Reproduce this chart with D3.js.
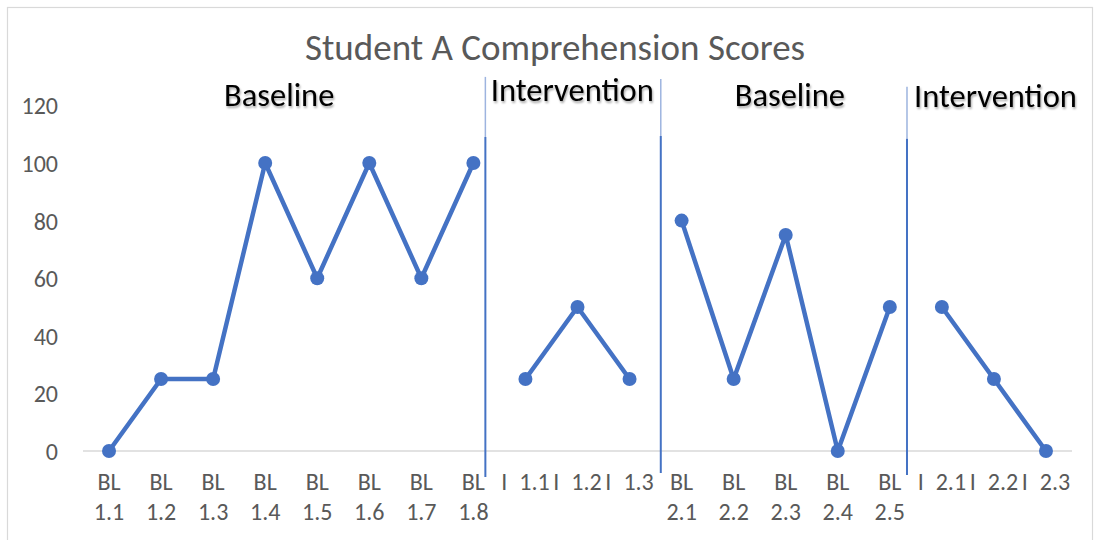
<!DOCTYPE html>
<html>
<head>
<meta charset="utf-8">
<script src="https://cdn.jsdelivr.net/npm/d3@7"></script>
<style>
  html, body { margin: 0; padding: 0; background: #fff; }
  svg { display: block; }
</style>
</head>
<body>
<svg id="chart" width="1095" height="540"></svg>
<script>
const categories = ["BL 1.1","BL 1.2","BL 1.3","BL 1.4","BL 1.5","BL 1.6","BL 1.7","BL 1.8",
  "I 1.1","I 1.2","I 1.3",
  "BL 2.1","BL 2.2","BL 2.3","BL 2.4","BL 2.5",
  "I 2.1","I 2.2","I 2.3"];
const scores = [0,25,25,100,60,100,60,100, 25,50,25, 80,25,75,0,50, 50,25,0];
const phaseIndex = [0,0,0,0,0,0,0,0, 1,1,1, 2,2,2,2,2, 3,3,3];
const phaseNames = ["Baseline","Intervention","Baseline","Intervention"];
const phaseLabelPos = [3.27, 8.9, 13.08, 17.03];   // centre, in category units
const phaseLabelVal = [119.8, 121.6, 119.8, 119.6]; // baseline, in score units
const phaseLines = [7.23, 10.6, 15.33];            // in category units
const phaseLineTopVal = [129.9, 129.2, 126.5];
const phaseLineMidVal = [109, 109.4, 108.4];
const phaseLineBottomVal = [-9, -7.6, -8.3];
const yTicks = [0,20,40,60,80,100,120];
const title = "Student A Comprehension Scores";

(function () {
const svg = d3.select("#chart");
const W = 1095, H = 540;
const mLeft = 83, mRight = 1072, mTop = 105.4, mBottom = 451;

svg.append("rect").attr("x", 7.5).attr("y", 7.5).attr("width", W - 10).attr("height", H - 4)
  .attr("fill", "#fff").attr("stroke", "#d9d9d9").attr("stroke-width", 1.2);

const x = d3.scalePoint().domain(categories).range([mLeft, mRight]).padding(0.5);
const step = x.step();
const xi = i => x(categories[0]) + i * step;
const y = d3.scaleLinear().domain([0, 120]).range([mBottom, mTop]);

const font = "Carlito, Calibri, 'Open Sans', 'Noto Sans', sans-serif";

svg.append("text").attr("x", 555).attr("y", 60).attr("text-anchor", "middle")
  .attr("font-family", font).attr("font-size", 37).attr("fill", "#595959").text(title);

const yAxis = d3.axisLeft(y).tickValues(yTicks).tickSize(0).tickPadding(0);
const yg = svg.append("g").attr("transform", `translate(58,0)`).call(yAxis);
yg.select(".domain").remove();
yg.selectAll("text").attr("font-family", font).attr("font-size", 24).attr("fill", "#595959").attr("dy", "0.35em");

const xAxis = d3.axisBottom(x).tickSize(0).tickFormat("");
const xg = svg.append("g").attr("transform", `translate(0,${mBottom})`).call(xAxis);
xg.select(".domain").attr("stroke", "#d9d9d9").attr("stroke-width", 1.5).attr("d", `M${mLeft},0H${mRight}`);

const lab = svg.append("g");
categories.forEach(c => {
  const parts = c.split(" ");
  const t = lab.append("text").attr("x", x(c)).attr("y", 490).attr("text-anchor", "middle")
    .attr("font-family", font).attr("font-size", 24).attr("fill", "#595959");
  if (parts[0] === "BL") {
    t.append("tspan").attr("x", x(c)).attr("dy", 0).text(parts[0]);
    t.append("tspan").attr("x", x(c)).attr("dy", 30).text(parts[1]);
  } else {
    t.text("I\u2002" + parts[1]);
  }
});

phaseLines.forEach((p, k) => {
  svg.append("line").attr("x1", xi(p)).attr("x2", xi(p))
    .attr("y1", y(phaseLineTopVal[k])).attr("y2", y(phaseLineMidVal[k]))
    .attr("stroke", "#9db4df").attr("stroke-width", 1.5);
  svg.append("line").attr("x1", xi(p)).attr("x2", xi(p))
    .attr("y1", y(phaseLineMidVal[k])).attr("y2", y(phaseLineBottomVal[k]))
    .attr("stroke", "#4472c4").attr("stroke-width", 2);
});

const defs = svg.append("defs");
const f = defs.append("filter").attr("id", "sh").attr("x", "-10%").attr("y", "-30%").attr("width", "120%").attr("height", "160%");
f.append("feGaussianBlur").attr("in", "SourceAlpha").attr("stdDeviation", 1.2).attr("result", "b");
f.append("feOffset").attr("in", "b").attr("dx", 1).attr("dy", 1.5).attr("result", "o");
f.append("feComponentTransfer").attr("in", "o").attr("result", "o2")
  .append("feFuncA").attr("type", "linear").attr("slope", 0.35);
const mg = f.append("feMerge");
mg.append("feMergeNode").attr("in", "o2");
mg.append("feMergeNode").attr("in", "SourceGraphic");

phaseNames.forEach((n, k) => {
  svg.append("text").attr("x", xi(phaseLabelPos[k])).attr("y", y(phaseLabelVal[k]))
    .attr("text-anchor", "middle").attr("font-family", font).attr("font-size", 32.5)
    .attr("fill", "#000").attr("filter", "url(#sh)").text(n);
});

const data = categories.map((c, i) => ({ c, v: scores[i], p: phaseIndex[i] }));
const groups = d3.groups(data, d => d.p);
const line = d3.line().x(d => x(d.c)).y(d => y(d.v));
groups.forEach(([p, pts]) => {
  svg.append("path").datum(pts).attr("d", line).attr("fill", "none")
    .attr("stroke", "#4472c4").attr("stroke-width", 4.5).attr("stroke-linejoin", "round");
});
svg.append("g").selectAll("circle").data(data).join("circle")
  .attr("cx", d => x(d.c)).attr("cy", d => y(d.v)).attr("r", 7).attr("fill", "#4472c4");
})();
</script>
</body>
</html>
